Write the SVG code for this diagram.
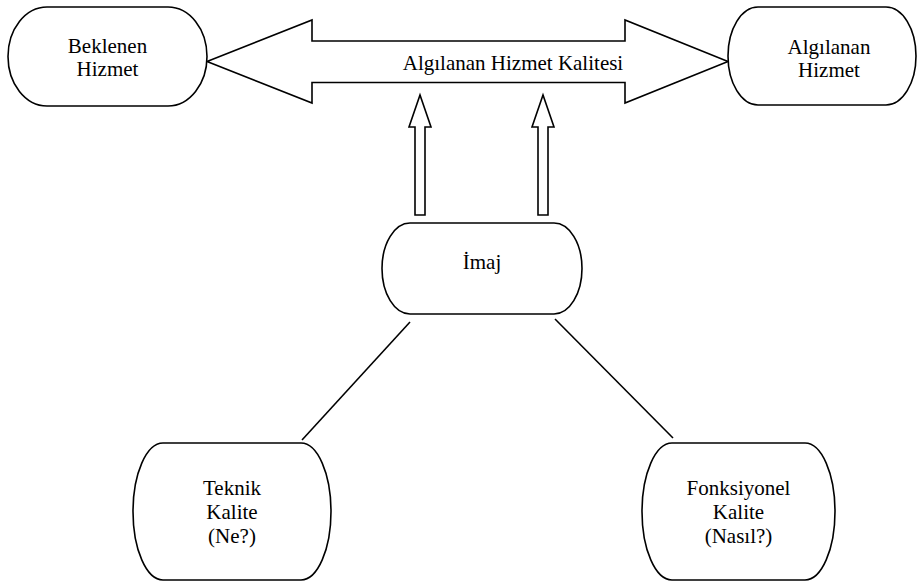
<svg xmlns="http://www.w3.org/2000/svg" width="918" height="583" viewBox="0 0 918 583" font-family="'Liberation Serif', 'Times New Roman', Times, serif">
<style>
.box{fill:#fff;stroke:#000;stroke-width:1.6}
text{font-family:"Liberation Serif","Times New Roman",Times,serif;font-size:21px;fill:#000;text-anchor:middle}
.ln{fill:none;stroke:#000;stroke-width:1.6}
.ar{fill:#fff;stroke:#000;stroke-width:1.6;stroke-linejoin:miter}
</style>
<rect width="918" height="583" fill="#fff"/>
<g id="connectors">
<polygon id="kalite-arrow" class="ar" points="207,61.5 312,20 312,41 625,41 625,20 728,61.5 625,103 625,82.5 312,82.5 312,103"/>
<polygon class="ar" points="415,215 415,127 409,127 420,95 431,127 425,127 425,215"/>
<polygon class="ar" points="538,215 538,127 532,127 543,95 554,127 548,127 548,215"/>
<line class="ln" x1="410" y1="322" x2="302" y2="440"/>
<line class="ln" x1="555" y1="319" x2="673" y2="438"/>
<text x="513" y="70">Algılanan Hizmet Kalitesi</text>
</g>
<g id="beklenen">
<rect class="box" x="8" y="7" width="199" height="99" rx="39" ry="49.5"/>
<text x="107.5" y="53">Beklenen</text>
<text x="107.5" y="76">Hizmet</text>
</g>
<g id="algilanan">
<rect class="box" x="728" y="7" width="188" height="98" rx="30" ry="49"/>
<text x="829" y="54">Algılanan</text>
<text x="829" y="77">Hizmet</text>
</g>
<g id="imaj">
<rect class="box" x="382" y="223" width="200" height="91" rx="28" ry="45.5"/>
<text x="482" y="269">İmaj</text>
</g>
<g id="teknik">
<rect class="box" x="133" y="443" width="198" height="137" rx="30" ry="68.5"/>
<text x="232" y="495">Teknik</text>
<text x="232" y="519">Kalite</text>
<text x="232" y="543">(Ne?)</text>
</g>
<g id="fonksiyonel">
<rect class="box" x="642" y="443" width="193" height="137" rx="30" ry="68.5"/>
<text x="738.5" y="495">Fonksiyonel</text>
<text x="738.5" y="519">Kalite</text>
<text x="738.5" y="543">(Nasıl?)</text>
</g>
</svg>
